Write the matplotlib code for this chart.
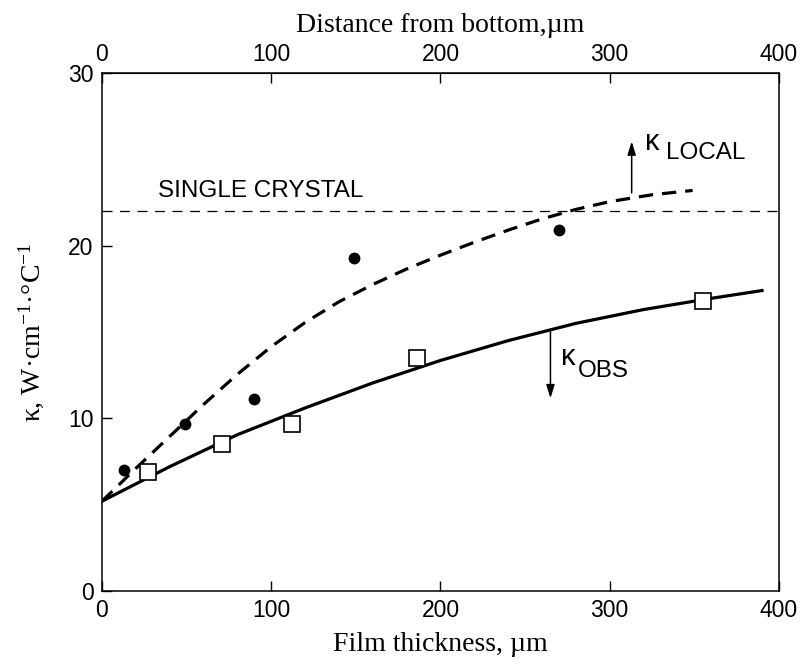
import matplotlib
matplotlib.use("Agg")
import matplotlib.pyplot as plt

# measured points
thick_local = [13, 49, 90, 149, 270]
kappa_local = [7.0, 9.65, 11.1, 19.3, 20.9]
thick_obs = [27, 71, 112, 186, 355]
kappa_obs = [6.9, 8.5, 9.65, 13.5, 16.8]

# fitted curves
fit_local_x = [0, 20, 40, 60, 80, 100, 120, 140, 160, 180, 200, 220, 240,
               260, 280, 300, 325, 349]
fit_local_y = [5.2, 7.1, 8.95, 10.8, 12.55, 14.15, 15.55, 16.75, 17.75, 18.65,
               19.45, 20.2, 20.9, 21.55, 22.1, 22.55, 22.95, 23.2]
fit_obs_x = [0, 40, 80, 120, 160, 200, 240, 280, 320, 360, 390]
fit_obs_y = [5.2, 7.2, 9.05, 10.6, 12.05, 13.35, 14.5, 15.5, 16.3, 16.95, 17.4]

single_crystal = 22

SANS = "Liberation Sans"
SERIF = "Liberation Serif"
plt.rcParams["font.family"] = SANS
plt.rcParams["mathtext.fontset"] = "custom"
plt.rcParams["mathtext.rm"] = SERIF
plt.rcParams["mathtext.it"] = SERIF + ":italic"

fig = plt.figure(figsize=(8.03, 6.64), dpi=100)
ax = fig.add_axes([0.127, 0.110, 0.843, 0.780])

ax.axhline(single_crystal, color="black", lw=0.9, ls=(0, (8, 6)))
ax.plot(fit_local_x, fit_local_y, color="black", lw=2.3, ls=(0, (4.5, 2.8)))
ax.plot(fit_obs_x, fit_obs_y, color="black", lw=2.3)
ax.plot(thick_local, kappa_local, "o", color="black", ms=7.5)
ax.plot(thick_obs, kappa_obs, "s", mfc="white", mec="black", mew=1.2, ms=12)

ax.set_xlim(0, 400)
ax.set_ylim(0, 30)
ax.set_xticks([0, 100, 200, 300, 400])
ax.set_yticks([0, 10, 20, 30])
ax.tick_params(direction="in", length=7, width=1, labelsize=16.5, pad=6,
               top=False, right=False)
for s in ax.spines.values():
    s.set_linewidth(1.1)

top = ax.secondary_xaxis("top")
top.set_xticks([0, 100, 200, 300, 400])
top.tick_params(direction="in", length=7, width=1, labelsize=16.5, pad=5)
top.set_xlabel("Distance from bottom,µm", fontfamily=SERIF, fontsize=20, labelpad=8)

ax.set_xlabel("Film thickness, µm", fontfamily=SERIF, fontsize=20, labelpad=7)
ax.set_ylabel(r"κ, W·cm$^{\mathrm{-1}}$·°C$^{\mathrm{-1}}$", fontfamily=SERIF,
              fontsize=20, labelpad=16)

ax.text(33, 23.15, "SINGLE CRYSTAL", fontsize=17.5, va="center", ha="left")

# arrows pointing to the two curves
arrow = dict(arrowstyle="-|>,head_length=0.8,head_width=0.25", color="black", lw=1.1)
ax.annotate("", xy=(313, 26.2), xytext=(313, 22.9), arrowprops=arrow)
ax.annotate("", xy=(265, 11.0), xytext=(265, 15.2), arrowprops=arrow)

ax.text(321, 26.0, "κ", fontsize=21, va="center", ha="left")
ax.text(333, 25.35, "LOCAL", fontsize=17.5, va="center", ha="left")
ax.text(271, 13.55, "κ", fontsize=21, va="center", ha="left")
ax.text(281, 12.75, "OBS", fontsize=17.5, va="center", ha="left")

fig.savefig("out.png", dpi=100)
